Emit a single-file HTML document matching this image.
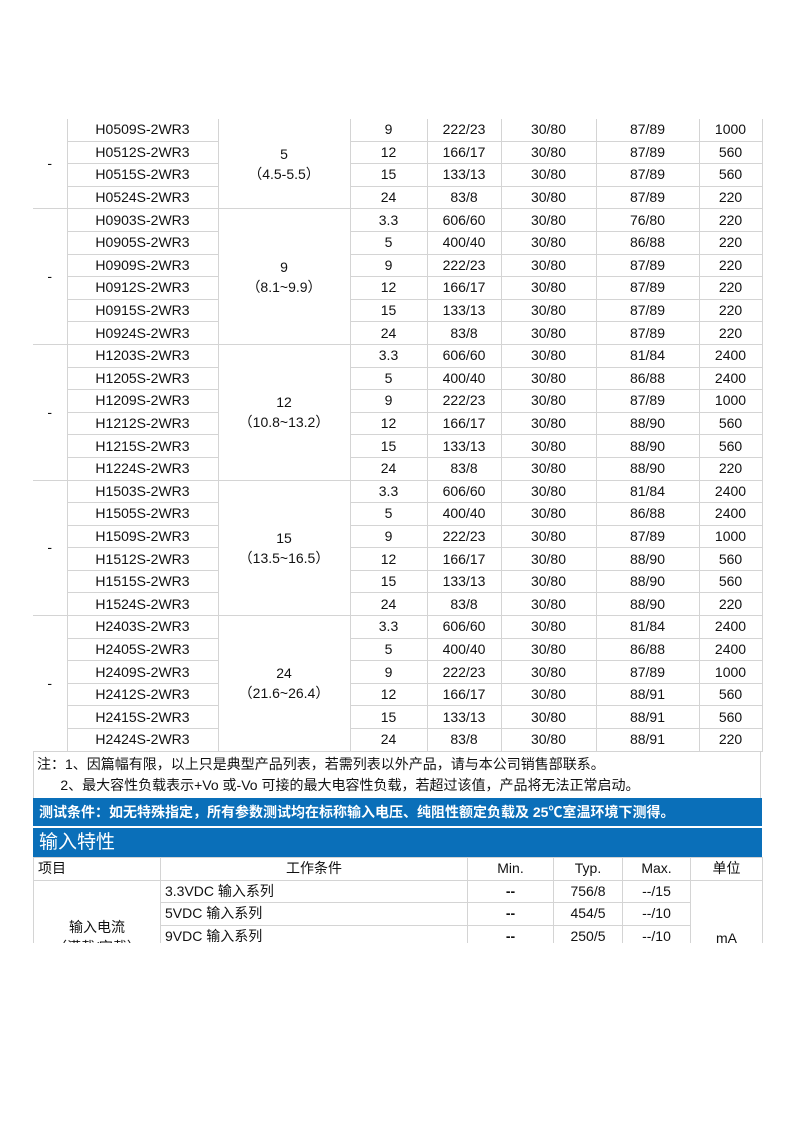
<!DOCTYPE html>
<html><head><meta charset="utf-8"><style>
body{margin:0;width:794px;height:1123px;background:#fff;position:relative;overflow:hidden;font-family:"Liberation Sans","Noto Sans CJK SC",sans-serif;color:#111;}
table{border-collapse:collapse;table-layout:fixed;position:absolute;}
td{border:1px solid #d4d4d4;text-align:center;font-size:14px;padding:0;height:21.6px;line-height:15px;}
#t1{left:33px;top:119px;width:729px;}
#t1 tr:first-child td{border-top:none;}
.m{line-height:20px}
.l{border-left:none}
.note{position:absolute;left:33px;top:752px;width:728px;height:46px;border-left:1px solid #d4d4d4;border-right:1px solid #d4d4d4;font-size:14px;line-height:21px;padding-left:3px;box-sizing:border-box;padding-top:2px;}
.bar{position:absolute;left:33px;width:729px;background:#0a6fb9;color:#fff;}
#t2{left:33px;top:857px;width:729px;}
#t2 td{height:21.5px}
</style></head><body>
<table id="t1">
<colgroup><col style="width:34px"><col style="width:151px"><col style="width:132px"><col style="width:77px"><col style="width:74px"><col style="width:95px"><col style="width:103px"><col style="width:63px"></colgroup>
<tr><td rowspan="4" class="l">-</td><td>H0509S-2WR3</td><td rowspan="4" class="m">5<br>（4.5-5.5）</td><td>9</td><td>222/23</td><td>30/80</td><td>87/89</td><td>1000</td></tr>
<tr><td>H0512S-2WR3</td><td>12</td><td>166/17</td><td>30/80</td><td>87/89</td><td>560</td></tr>
<tr><td>H0515S-2WR3</td><td>15</td><td>133/13</td><td>30/80</td><td>87/89</td><td>560</td></tr>
<tr><td>H0524S-2WR3</td><td>24</td><td>83/8</td><td>30/80</td><td>87/89</td><td>220</td></tr>
<tr><td rowspan="6" class="l">-</td><td>H0903S-2WR3</td><td rowspan="6" class="m">9<br>（8.1~9.9）</td><td>3.3</td><td>606/60</td><td>30/80</td><td>76/80</td><td>220</td></tr>
<tr><td>H0905S-2WR3</td><td>5</td><td>400/40</td><td>30/80</td><td>86/88</td><td>220</td></tr>
<tr><td>H0909S-2WR3</td><td>9</td><td>222/23</td><td>30/80</td><td>87/89</td><td>220</td></tr>
<tr><td>H0912S-2WR3</td><td>12</td><td>166/17</td><td>30/80</td><td>87/89</td><td>220</td></tr>
<tr><td>H0915S-2WR3</td><td>15</td><td>133/13</td><td>30/80</td><td>87/89</td><td>220</td></tr>
<tr><td>H0924S-2WR3</td><td>24</td><td>83/8</td><td>30/80</td><td>87/89</td><td>220</td></tr>
<tr><td rowspan="6" class="l">-</td><td>H1203S-2WR3</td><td rowspan="6" class="m">12<br>（10.8~13.2）</td><td>3.3</td><td>606/60</td><td>30/80</td><td>81/84</td><td>2400</td></tr>
<tr><td>H1205S-2WR3</td><td>5</td><td>400/40</td><td>30/80</td><td>86/88</td><td>2400</td></tr>
<tr><td>H1209S-2WR3</td><td>9</td><td>222/23</td><td>30/80</td><td>87/89</td><td>1000</td></tr>
<tr><td>H1212S-2WR3</td><td>12</td><td>166/17</td><td>30/80</td><td>88/90</td><td>560</td></tr>
<tr><td>H1215S-2WR3</td><td>15</td><td>133/13</td><td>30/80</td><td>88/90</td><td>560</td></tr>
<tr><td>H1224S-2WR3</td><td>24</td><td>83/8</td><td>30/80</td><td>88/90</td><td>220</td></tr>
<tr><td rowspan="6" class="l">-</td><td>H1503S-2WR3</td><td rowspan="6" class="m">15<br>（13.5~16.5）</td><td>3.3</td><td>606/60</td><td>30/80</td><td>81/84</td><td>2400</td></tr>
<tr><td>H1505S-2WR3</td><td>5</td><td>400/40</td><td>30/80</td><td>86/88</td><td>2400</td></tr>
<tr><td>H1509S-2WR3</td><td>9</td><td>222/23</td><td>30/80</td><td>87/89</td><td>1000</td></tr>
<tr><td>H1512S-2WR3</td><td>12</td><td>166/17</td><td>30/80</td><td>88/90</td><td>560</td></tr>
<tr><td>H1515S-2WR3</td><td>15</td><td>133/13</td><td>30/80</td><td>88/90</td><td>560</td></tr>
<tr><td>H1524S-2WR3</td><td>24</td><td>83/8</td><td>30/80</td><td>88/90</td><td>220</td></tr>
<tr><td rowspan="6" class="l">-</td><td>H2403S-2WR3</td><td rowspan="6" class="m">24<br>（21.6~26.4）</td><td>3.3</td><td>606/60</td><td>30/80</td><td>81/84</td><td>2400</td></tr>
<tr><td>H2405S-2WR3</td><td>5</td><td>400/40</td><td>30/80</td><td>86/88</td><td>2400</td></tr>
<tr><td>H2409S-2WR3</td><td>9</td><td>222/23</td><td>30/80</td><td>87/89</td><td>1000</td></tr>
<tr><td>H2412S-2WR3</td><td>12</td><td>166/17</td><td>30/80</td><td>88/91</td><td>560</td></tr>
<tr><td>H2415S-2WR3</td><td>15</td><td>133/13</td><td>30/80</td><td>88/91</td><td>560</td></tr>
<tr><td>H2424S-2WR3</td><td>24</td><td>83/8</td><td>30/80</td><td>88/91</td><td>220</td></tr>
</table>
<div class="note">注：1、因篇幅有限，以上只是典型产品列表，若需列表以外产品，请与本公司销售部联系。<br>&nbsp;&nbsp;&nbsp;&nbsp;&nbsp;&nbsp;2、最大容性负载表示+Vo 或-Vo 可接的最大电容性负载，若超过该值，产品将无法正常启动。</div>
<div class="bar" style="top:798px;height:28px;font-size:14px;font-weight:bold;line-height:28px;padding-left:6px;box-sizing:border-box;">测试条件：如无特殊指定，所有参数测试均在标称输入电压、纯阻性额定负载及 25℃室温环境下测得。</div>
<div class="bar" style="top:828px;height:29px;font-size:19px;line-height:29px;padding-left:6px;box-sizing:border-box;">输入特性</div>
<table id="t2">
<colgroup><col style="width:127px"><col style="width:307px"><col style="width:86px"><col style="width:69px"><col style="width:68px"><col style="width:72px"></colgroup>
<tr><td style="text-align:left;padding-left:4px">项目</td><td>工作条件</td><td>Min.</td><td>Typ.</td><td>Max.</td><td>单位</td></tr>
<tr><td rowspan="4" style="vertical-align:top;padding-top:36px;line-height:20px">输入电流<br>（满载/空载）</td><td style="text-align:left;padding-left:4px">3.3VDC 输入系列</td><td><b>--</b></td><td>756/8</td><td>--/15</td><td rowspan="4" style="vertical-align:top;padding-top:50px">mA</td></tr>
<tr><td style="text-align:left;padding-left:4px">5VDC 输入系列</td><td><b>--</b></td><td>454/5</td><td>--/10</td></tr>
<tr><td style="text-align:left;padding-left:4px">9VDC 输入系列</td><td><b>--</b></td><td>250/5</td><td>--/10</td></tr>
<tr><td></td><td></td><td></td><td></td></tr>
</table>
<div style="position:absolute;left:0;top:943px;width:794px;height:180px;background:#fff;"></div>
</body></html>
